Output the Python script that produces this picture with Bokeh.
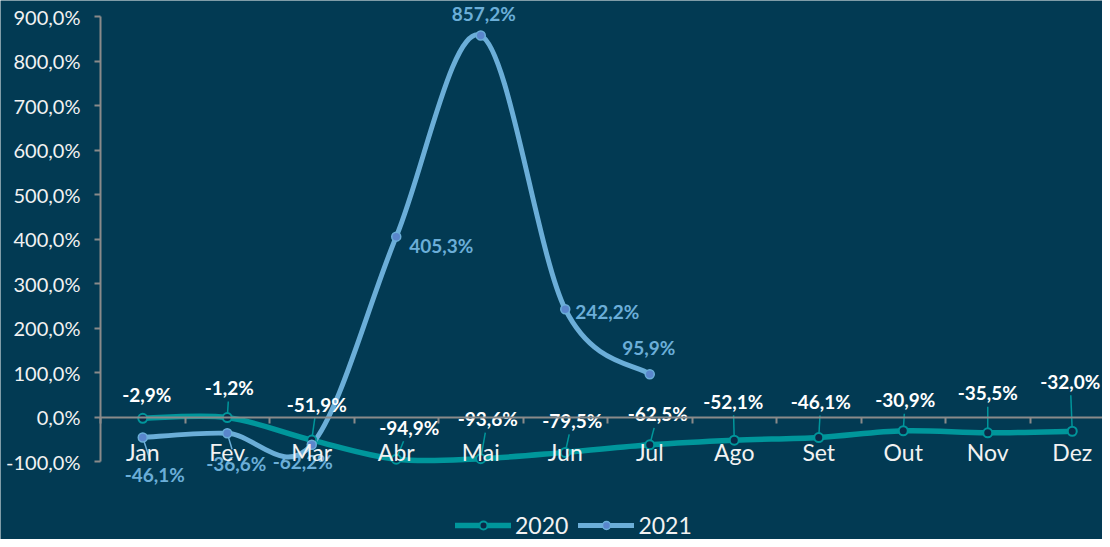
from bokeh.plotting import figure
from bokeh.models import ColumnDataSource, FixedTicker, Range1d, Legend, LegendItem
from bokeh.core.properties import value
from bokeh.embed import file_html
from bokeh.resources import INLINE

# ---- data ----
months = ["Jan", "Fev", "Mar", "Abr", "Mai", "Jun", "Jul", "Ago", "Set", "Out", "Nov", "Dez"]
v2020 = [-2.9, -1.2, -51.9, -94.9, -93.6, -79.5, -62.5, -52.1, -46.1, -30.9, -35.5, -32.0]
v2021 = [-46.1, -36.6, -62.2, 405.3, 857.2, 242.2, 95.9]
y_ticks = [-100, 0, 100, 200, 300, 400, 500, 600, 700, 800, 900]

# ---- label placement (screen px offsets from the point, +y = down) ----
off2020_x = [4, 2, 5, 13, 7, 7, 8, -1, 2, 2, 0, -2]
off2020_y = [-24, -30, -36, -32, -40, -32, -31, -39, -36, -31, -40, -50]
lead2020 = [0, 1, 1, 1, 1, 1, 1, 1, 1, 1, 1, 1]
off2021_x = [12, 9, -9, 45, 3, 42, -1]
off2021_y = [37, 30, 17, 9, -22, 2, -27]
lead2021 = [1, 1, 0, 0, 0, 0, 0]

BG = "#023A53"
TEAL = "#00969B"
LBLUE = "#6BAED8"
MBLUE = "#5A86CC"
GRAY = "#8A8A8A"
FONT = "Lato"

W, H = 1102, 539
AXIS_LEFT_PX = 100        # where the value axis sits, from the left
AXIS_TOP_PX = 16          # where 900% sits, from the top
PX_X = 84.5     # px per category
PX_Y = 0.445    # px per percent point
AXIS_MIN, AXIS_MAX = -100, 900
CAT_START = -0.5
# the frame fills the whole canvas so that labels and legend are never clipped
X_START = CAT_START - AXIS_LEFT_PX / PX_X
X_END = X_START + W / PX_X
Y_END = AXIS_MAX + AXIS_TOP_PX / PX_Y
Y_START = Y_END - H / PX_Y


def fmt(v):
    return f"{v:.1f}%".replace(".", ",")


def bezier_segments(xs, ys):
    n = len(xs)
    d = dict(x0=[], y0=[], x1=[], y1=[], cx0=[], cy0=[], cx1=[], cy1=[])
    for i in range(n - 1):
        xp, yp = (xs[i - 1], ys[i - 1]) if i > 0 else (xs[i], ys[i])
        xn, yn = (xs[i + 2], ys[i + 2]) if i + 2 < n else (xs[i + 1], ys[i + 1])
        d["x0"].append(xs[i]); d["y0"].append(ys[i])
        d["x1"].append(xs[i + 1]); d["y1"].append(ys[i + 1])
        d["cx0"].append(xs[i] + (xs[i + 1] - xp) / 6)
        d["cy0"].append(ys[i] + (ys[i + 1] - yp) / 6)
        d["cx1"].append(xs[i + 1] - (xn - xs[i]) / 6)
        d["cy1"].append(ys[i + 1] - (yn - ys[i]) / 6)
    return ColumnDataSource(d)


def leaders(xs, ys, dxs, dys, flags):
    d = dict(x0=[], y0=[], x1=[], y1=[])
    for x, y, dx, dy, f in zip(xs, ys, dxs, dys, flags):
        if not f:
            continue
        length = (dx * dx + dy * dy) ** 0.5
        sx, sy = dx * 4 / length, dy * 4 / length
        k = 1 - 14 / abs(dy)
        ex, ey = dx * k, dy * k
        d["x0"].append(x + sx / PX_X); d["y0"].append(y - sy / PX_Y)
        d["x1"].append(x + ex / PX_X); d["y1"].append(y - ey / PX_Y)
    return ColumnDataSource(d)


x20 = list(range(len(v2020)))
x21 = list(range(len(v2021)))

p = figure(width=W, height=H, output_backend="svg", toolbar_location=None,
           x_range=Range1d(X_START, X_END), y_range=Range1d(Y_START, Y_END),
           min_border_left=0, min_border_right=0, min_border_top=0, min_border_bottom=0)
p.background_fill_color = BG
p.border_fill_color = BG
p.outline_line_color = None
p.xgrid.visible = False
p.ygrid.visible = False

# y axis at the left edge of the categories
p.yaxis.fixed_location = CAT_START
p.yaxis.bounds = (AXIS_MIN, AXIS_MAX)
p.yaxis.ticker = FixedTicker(ticks=y_ticks)
p.yaxis.major_label_overrides = {t: fmt(t) for t in y_ticks}
p.yaxis.axis_line_color = GRAY
p.yaxis.axis_line_width = 2
p.yaxis.major_tick_line_color = GRAY
p.yaxis.major_tick_line_width = 2
p.yaxis.major_tick_out = 6
p.yaxis.major_tick_in = 0
p.yaxis.minor_tick_out = 0
p.yaxis.minor_tick_in = 0
p.yaxis.major_label_standoff = 14
p.yaxis.major_label_text_font = FONT
p.yaxis.major_label_text_font_size = "20px"
p.yaxis.major_label_text_color = "#F2F2F2"

# x axis crossing at 0, ticks between categories
p.xaxis.fixed_location = 0
p.xaxis.bounds = (CAT_START, X_END)
p.xaxis.ticker = FixedTicker(ticks=x20, minor_ticks=[i - 0.5 for i in range(len(months) + 1)])
p.xaxis.major_label_overrides = {i: m for i, m in enumerate(months)}
p.xaxis.axis_line_color = GRAY
p.xaxis.axis_line_width = 2
p.xaxis.major_tick_out = 0
p.xaxis.major_tick_in = 0
p.xaxis.major_tick_line_color = None
p.xaxis.minor_tick_out = 6
p.xaxis.minor_tick_in = 0
p.xaxis.minor_tick_line_color = GRAY
p.xaxis.minor_tick_line_width = 2
p.xaxis.major_label_standoff = 15
p.xaxis.major_label_text_font = FONT
p.xaxis.major_label_text_font_size = "23px"
p.xaxis.major_label_text_color = "#F2F2F2"

# lines
l20 = p.bezier(x0="x0", y0="y0", x1="x1", y1="y1", cx0="cx0", cy0="cy0", cx1="cx1", cy1="cy1",
               source=bezier_segments(x20, v2020), line_color=TEAL, line_width=5.5, line_cap="round")
l21 = p.bezier(x0="x0", y0="y0", x1="x1", y1="y1", cx0="cx0", cy0="cy0", cx1="cx1", cy1="cy1",
               source=bezier_segments(x21, v2021), line_color=LBLUE, line_width=5, line_cap="round")

# leader lines
p.segment(x0="x0", y0="y0", x1="x1", y1="y1",
          source=leaders(x20, v2020, off2020_x, off2020_y, lead2020),
          line_color=TEAL, line_width=1.5)
p.segment(x0="x0", y0="y0", x1="x1", y1="y1",
          source=leaders(x21, v2021, off2021_x, off2021_y, lead2021),
          line_color=LBLUE, line_width=1.5)

# markers
s20 = ColumnDataSource(dict(x=x20, y=v2020, t=[fmt(v) for v in v2020], dx=off2020_x, dy=off2020_y))
s21 = ColumnDataSource(dict(x=x21, y=v2021, t=[fmt(v) for v in v2021], dx=off2021_x, dy=off2021_y))
m20 = p.scatter("x", "y", source=s20, size=9, fill_color="#0A2A48", line_color=TEAL, line_width=2)
m21 = p.scatter("x", "y", source=s21, size=9, fill_color=MBLUE, line_color=LBLUE, line_width=1.5)

# data labels
p.text("x", "y", text="t", source=s20, x_offset="dx", y_offset="dy",
       text_font=value(FONT), text_font_style="bold", text_font_size="19px",
       text_color="#FFFFFF", text_align="center", text_baseline="middle")
p.text("x", "y", text="t", source=s21, x_offset="dx", y_offset="dy",
       text_font=value(FONT), text_font_style="bold", text_font_size="19px",
       text_color=LBLUE, text_align="center", text_baseline="middle")

legend = Legend(items=[LegendItem(label="2020", renderers=[l20, m20]),
                       LegendItem(label="2021", renderers=[l21, m21])],
                location=(AXIS_LEFT_PX + 355, 0), orientation="horizontal", margin=0, padding=0,
                spacing=10, label_standoff=4, glyph_width=56, glyph_height=20,
                label_text_font=FONT, label_text_font_size="23px", label_text_color="#F2F2F2",
                border_line_color=None, background_fill_alpha=0)
p.add_layout(legend)

open("out.html", "w").write(file_html(p, INLINE))
